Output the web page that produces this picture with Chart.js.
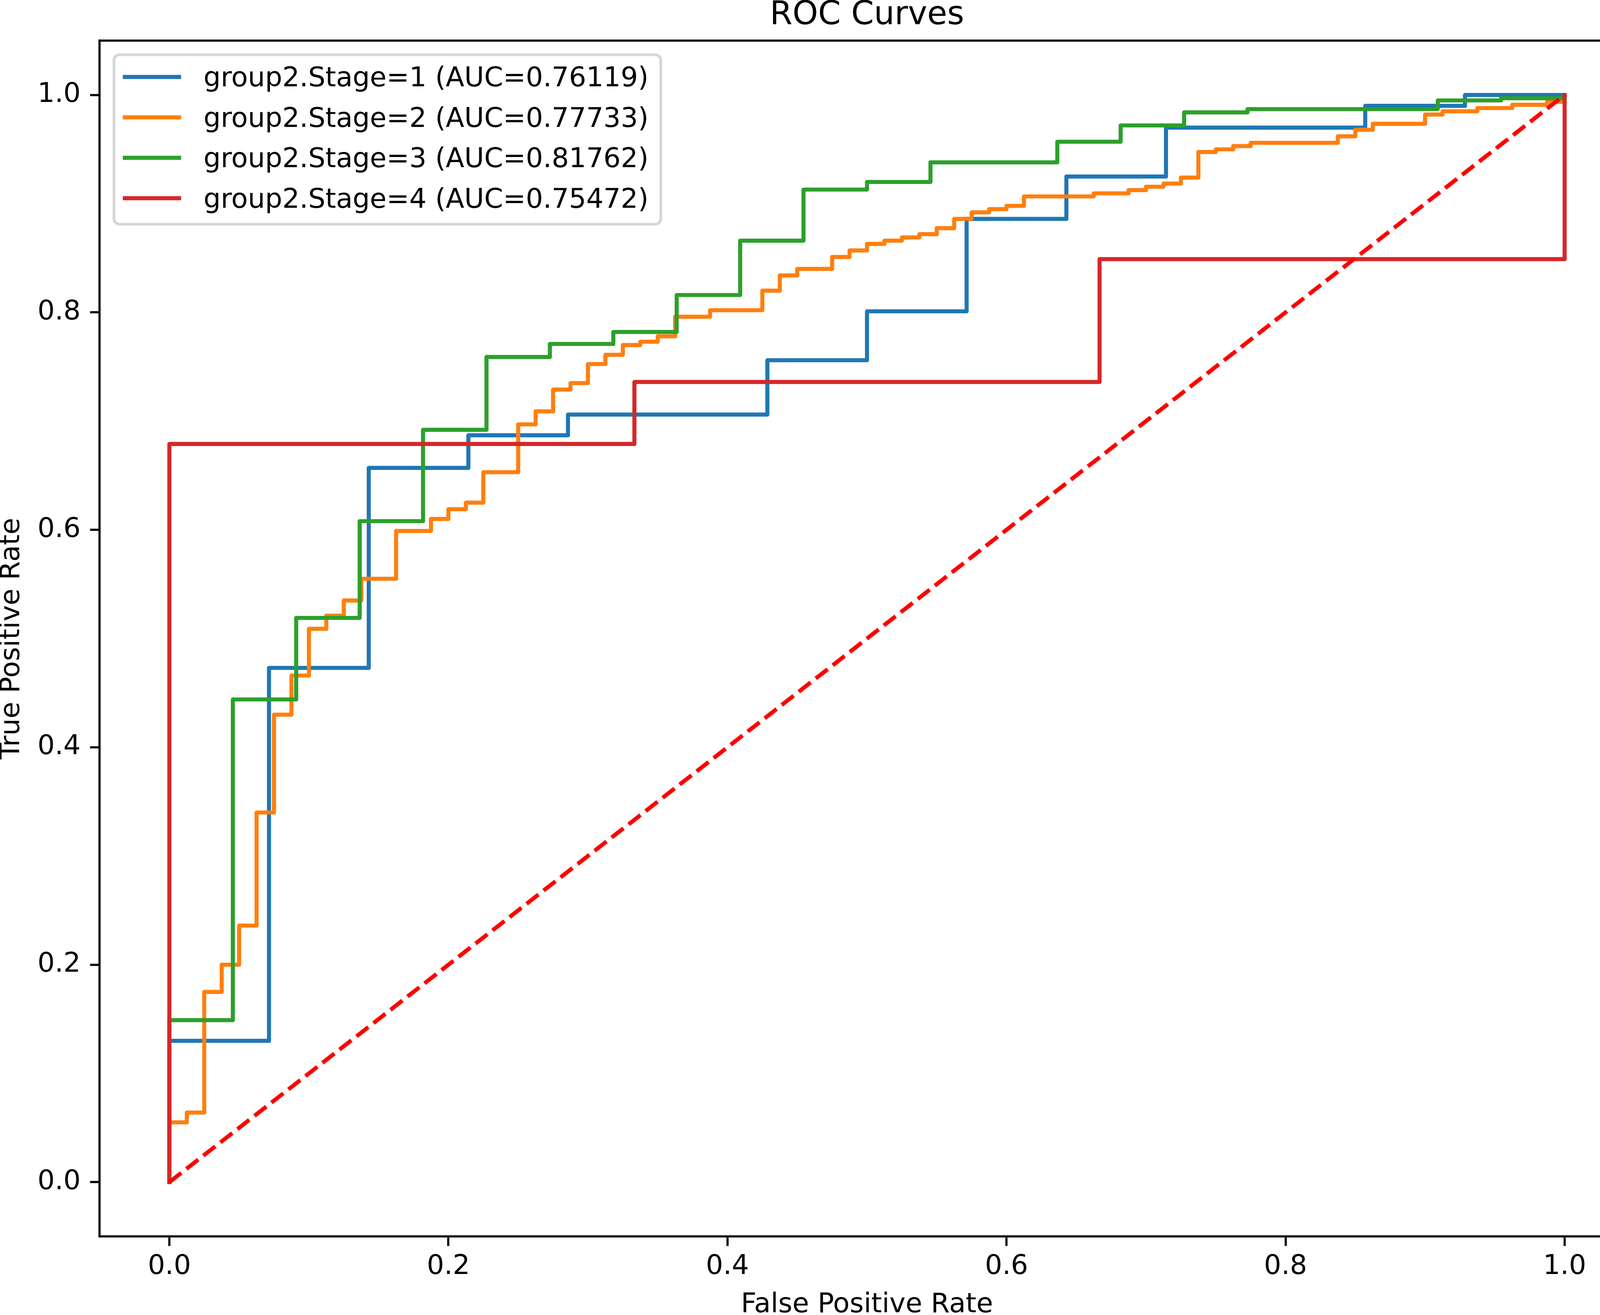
<!DOCTYPE html>
<html>
<head>
<meta charset="utf-8">
<title>ROC Curves</title>
<script src="https://cdn.jsdelivr.net/npm/chart.js@4.4.1/dist/chart.umd.min.js"></script>
<style>
  html, body { margin: 0; padding: 0; background: #fff; }
  canvas { display: block; }
</style>
</head>
<body>
<canvas id="roc" width="4190" height="3367"></canvas>
<script>
/* ROC curves for the four group2 stages, redrawn in the matplotlib look.
 * Each pair of arrays lists the FPR at which a new TPR level starts
 * the lines are drawn stepped, horizontal first. */

var stage1Fpr = [0, 0, 0.0714, 0.1429, 0.2143, 0.2857, 0.4286, 0.5, 0.5714, 0.6429, 0.7143, 0.8571, 0.9286, 1];
var stage1Tpr = [0, 0.130, 0.473, 0.657, 0.687, 0.706, 0.756, 0.801, 0.886, 0.925, 0.970, 0.990, 1, 1];

var stage2Fpr = [0, 0, 0.0125, 0.025, 0.0375, 0.05, 0.0625, 0.075, 0.0875, 0.1, 0.1125, 0.125, 0.1375, 0.1625,
                 0.1875, 0.2, 0.2125, 0.225, 0.25, 0.2625, 0.275, 0.2875, 0.3, 0.3125, 0.325, 0.3375, 0.35,
                 0.3625, 0.3875, 0.425, 0.4375, 0.45, 0.475, 0.4875, 0.5, 0.5125, 0.525, 0.5375, 0.55, 0.5625,
                 0.575, 0.5875, 0.6, 0.6125, 0.6625, 0.6875, 0.7, 0.7125, 0.725, 0.7375, 0.75, 0.7625, 0.775,
                 0.8375, 0.85, 0.8625, 0.9, 0.9125, 0.9375, 0.9625, 0.9875, 1];
var stage2Tpr = [0, 0.055, 0.064, 0.175, 0.200, 0.236, 0.340, 0.430, 0.466, 0.509, 0.521, 0.535, 0.555, 0.599,
                 0.610, 0.619, 0.625, 0.653, 0.697, 0.709, 0.729, 0.735, 0.7525, 0.761, 0.770, 0.773, 0.778,
                 0.796, 0.802, 0.820, 0.834, 0.840, 0.851, 0.857, 0.863, 0.866, 0.869, 0.872, 0.8775, 0.886,
                 0.892, 0.895, 0.898, 0.9067, 0.9095, 0.9125, 0.9156, 0.9185, 0.924, 0.9475, 0.950, 0.953, 0.956,
                 0.962, 0.968, 0.9735, 0.982, 0.985, 0.988, 0.991, 0.9937, 1];

var stage3Fpr = [0, 0, 0.0455, 0.0909, 0.1364, 0.1818, 0.2273, 0.2727, 0.3182, 0.3636, 0.4091, 0.4545, 0.5,
                 0.5455, 0.6364, 0.6818, 0.7273, 0.7727, 0.9091, 0.9545, 1];
var stage3Tpr = [0, 0.149, 0.444, 0.519, 0.608, 0.692, 0.759, 0.771, 0.782, 0.816, 0.866, 0.913, 0.920,
                 0.938, 0.957, 0.972, 0.984, 0.987, 0.995, 0.997, 1];

var stage4Fpr = [0, 0, 0.3333, 0.6667, 1];
var stage4Tpr = [0, 0.679, 0.736, 0.849, 1];

var chanceFpr = [0, 1];
var chanceTpr = [0, 1];

var seriesLabels = [
  "group2.Stage=1 (AUC=0.76119)",
  "group2.Stage=2 (AUC=0.77733)",
  "group2.Stage=3 (AUC=0.81762)",
  "group2.Stage=4 (AUC=0.75472)"
];

var xRange = [-0.05, 1.05];
var yRange = [-0.05, 1.05];
var tickStep = 0.2;

var chartTitle = "ROC Curves";
var xTitle = "False Positive Rate";
var yTitle = "True Positive Rate";

/* ---- styling (matplotlib defaults at 500 dpi) ---- */
var PX = 500 / 72;                 // 1 pt in canvas pixels
var FS = 10 * PX;                  // base font size
var FONT = "'DejaVu Sans', sans-serif";
var TAB = ["#1f77b4", "#ff7f0e", "#2ca02c", "#d62728"];
var LW = 1.5 * PX;

function pts(xs, ys) {
  return xs.map(function (x, i) { return { x: x, y: ys[i] }; });
}

var curves = [
  pts(stage1Fpr, stage1Tpr),
  pts(stage2Fpr, stage2Tpr),
  pts(stage3Fpr, stage3Tpr),
  pts(stage4Fpr, stage4Tpr)
];

var datasets = curves.map(function (d, i) {
  return {
    label: seriesLabels[i], data: d, borderColor: TAB[i], backgroundColor: TAB[i],
    borderWidth: LW, stepped: "before", pointRadius: 0, showLine: true, fill: false,
    borderJoinStyle: "round", borderCapStyle: "square",
    order: 10 - i                      // later series on top, like matplotlib
  };
});
datasets.push({
  label: "chance", data: pts(chanceFpr, chanceTpr), borderColor: "#ff0000",
  borderWidth: LW, borderDash: [3.7 * LW, 1.6 * LW], borderCapStyle: "butt",
  pointRadius: 0, showLine: true, fill: false, order: 1
});

/* spines, title and a matplotlib-style legend box */
var mplDecor = {
  id: "mplDecor",
  afterDatasetsDraw: function (chart) {
    var a = chart.chartArea, ctx = chart.ctx;
    ctx.save();

    ctx.strokeStyle = "#000";
    ctx.lineWidth = 0.8 * PX;
    ctx.lineCap = "square";
    ctx.beginPath();
    ctx.moveTo(a.left, a.top);
    ctx.lineTo(a.right, a.top);
    ctx.lineTo(a.right, a.bottom);
    ctx.stroke();

    ctx.fillStyle = "#000";
    ctx.font = (12 * PX) + "px " + FONT;
    ctx.textAlign = "center";
    ctx.textBaseline = "alphabetic";
    ctx.fillText(chartTitle, (a.left + a.right) / 2, a.top - 6 * PX);

    // legend, upper left
    ctx.font = FS + "px " + FONT;
    var textW = 0;
    seriesLabels.forEach(function (s) { textW = Math.max(textW, ctx.measureText(s).width); });
    var bx = a.left + 0.53 * FS, by = a.top + 0.52 * FS;
    var textX = bx + 3.3 * FS;
    var bw = textX - bx + textW + 0.45 * FS, bh = 6.25 * FS;
    var r = 0.2 * FS;
    ctx.beginPath();
    ctx.roundRect(bx, by, bw, bh, r);
    ctx.fillStyle = "rgba(255,255,255,0.8)";
    ctx.fill();
    ctx.strokeStyle = "rgba(204,204,204,0.8)";
    ctx.lineWidth = 1.0 * PX;
    ctx.stroke();

    ctx.textAlign = "left";
    seriesLabels.forEach(function (s, i) {
      var cy = by + 0.82 * FS + i * 1.49 * FS;
      ctx.strokeStyle = TAB[i];
      ctx.lineWidth = LW;
      ctx.lineCap = "square";
      ctx.beginPath();
      ctx.moveTo(bx + 0.4 * FS, cy);
      ctx.lineTo(bx + 2.4 * FS, cy);
      ctx.stroke();
      ctx.fillStyle = "#000";
      ctx.fillText(s, textX, cy + 0.35 * FS);
    });

    ctx.restore();
  }
};

function axis(pos, range, title, lh, pad, fixSize) {
  return {
    type: "linear", position: pos, min: range[0], max: range[1],
    ticks: {
      stepSize: tickStep, includeBounds: false, maxRotation: 0, autoSkip: false,
      color: "#000", padding: pad, font: { family: FONT, size: FS },
      callback: function (v) { return (+v).toFixed(1); }
    },
    grid: { drawOnChartArea: false, drawTicks: true, tickLength: 3.5 * PX, tickWidth: 0.8 * PX, tickColor: "#000" },
    border: { display: true, color: "#000", width: 0.8 * PX },
    title: { display: true, text: title, color: "#000", padding: 0, font: { family: FONT, size: FS, lineHeight: lh } },
    afterFit: fixSize
  };
}

new Chart(document.getElementById("roc"), {
  type: "scatter",
  data: { datasets: datasets },
  options: {
    responsive: false, devicePixelRatio: 1, animation: false,
    layout: { padding: { top: 104, right: 6, left: 0, bottom: 0 } },
    plugins: { legend: { display: false }, tooltip: { enabled: false }, title: { display: false } },
    scales: {
      x: axis("bottom", xRange, xTitle, 0.72, 12, function (s) { s.height = 201; }),
      y: axis("left", yRange, yTitle, 0.9, 3.5 * PX, function (s) { s.width = 255; })
    }
  },
  plugins: [mplDecor]
});
</script>
</body>
</html>
